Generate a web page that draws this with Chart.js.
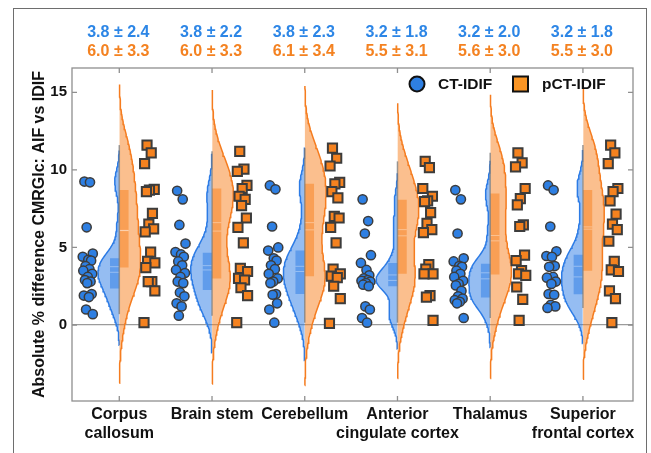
<!DOCTYPE html>
<html lang="en">
<head>
<meta charset="UTF-8">
<title>CMRGlc difference</title>
<script src="https://cdn.jsdelivr.net/npm/chart.js"></script>
<style>
  html, body { margin:0; padding:0; background:#fff; }
  #wrap { position:relative; width:651px; height:453px; overflow:hidden; }
  #frame { position:absolute; left:13px; top:8px; width:634px; height:470px; border:1.5px solid #6e6e6e; box-sizing:border-box; }
  canvas { position:absolute; left:0; top:0; }
</style>
</head>
<body>
<div id="wrap">
  <div id="frame"></div>
  <canvas id="myChart" width="651" height="453"></canvas>
</div>
<script>
// categories (x tick labels, multi line)
const regions = [['Corpus', 'callosum'], ['Brain stem'], ['Cerebellum'], ['Anterior', 'cingulate cortex'], ['Thalamus'], ['Superior', 'frontal cortex']];
const seriesNames = ['CT-IDIF', 'pCT-IDIF'];
// mean ± sd labels above the plot
const ctStats = ['3.8 ± 2.4', '3.8 ± 2.2', '3.8 ± 2.3', '3.2 ± 1.8', '3.2 ± 2.0', '3.2 ± 1.8'];
const pctStats = ['6.0 ± 3.3', '6.0 ± 3.3', '6.1 ± 3.4', '5.5 ± 3.1', '5.6 ± 3.0', '5.5 ± 3.0'];
// per subject values
const ctValues = [
  [9.25, 9.2, 6.3, 4.6, 4.4, 4.2, 4.15, 3.8, 3.6, 3.5, 3.3, 3.1, 2.9, 2.8, 2.7, 2.0, 1.9, 1.8, 1.0, 0.7],
  [8.65, 8.1, 6.45, 5.25, 4.7, 4.55, 4.4, 4.1, 3.85, 3.55, 3.35, 3.1, 2.8, 2.7, 2.1, 1.85, 1.4, 1.2, 0.6],
  [9.0, 8.75, 6.35, 5.0, 4.8, 4.3, 4.15, 3.85, 3.6, 3.3, 3.0, 2.8, 2.7, 2.0, 1.95, 1.4, 1.0, 0.15],
  [8.1, 6.7, 5.9, 4.5, 4.0, 3.55, 3.2, 3.0, 2.9, 2.85, 2.8, 2.7, 2.6, 2.5, 1.2, 1.0, 0.45, 0.15],
  [8.7, 8.1, 5.9, 4.3, 4.1, 3.8, 3.75, 3.5, 3.3, 3.1, 2.85, 2.65, 2.55, 2.2, 1.85, 1.7, 1.6, 1.5, 1.4, 0.45],
  [9.0, 8.7, 6.35, 4.75, 4.45, 4.4, 3.8, 3.75, 3.1, 3.05, 2.8, 2.65, 2.0, 1.95, 1.3, 1.2, 1.1]
];
const pctValues = [
  [11.6, 11.1, 10.4, 8.75, 8.7, 8.6, 7.2, 6.5, 6.2, 6.0, 4.7, 4.1, 4.0, 3.7, 2.8, 2.8, 2.2, 0.15],
  [11.2, 10.05, 9.9, 9.0, 8.8, 8.3, 8.1, 7.7, 6.9, 6.3, 5.3, 3.65, 3.45, 3.0, 2.9, 2.4, 1.9, 0.15],
  [11.4, 10.75, 10.25, 9.2, 9.1, 8.6, 8.2, 7.0, 6.9, 6.3, 5.3, 3.6, 3.3, 3.15, 3.05, 2.5, 1.7, 0.1],
  [10.55, 10.15, 8.8, 8.3, 8.0, 7.95, 7.25, 6.55, 6.15, 5.95, 3.9, 3.6, 3.3, 3.3, 1.9, 1.8, 0.3],
  [11.1, 10.45, 10.2, 8.8, 8.15, 7.75, 6.45, 6.35, 4.5, 4.15, 3.5, 3.3, 3.2, 2.45, 1.65, 0.3],
  [11.6, 11.1, 10.4, 8.8, 8.6, 8.0, 7.15, 6.5, 6.15, 5.4, 4.1, 3.55, 3.45, 2.2, 1.7, 0.15]
];
// kernel bandwidths of the violins
const ctBw = [0.77, 0.92, 0.94, 0.65, 0.73, 0.88];
const pctBw = [1.5, 1.52, 1.54, 1.44, 1.44, 1.4];
const yTicks = [0, 5, 10, 15];
// horizontal scatter of the dots
const jitter = [-0.6, 0.4, -0.2, 0.9, -0.9, 0.1, 0.6, -0.4, 0.3, -0.8, 0.8, 0, -0.5, 0.5, -0.1, 0.7, -0.7, 0.2, -0.3, 0.9];

const FONT = "'Liberation Sans', Arial, sans-serif";
const blue = '#2C7BE5', blueFill = 'rgba(44,123,229,0.5)', blueDot = '#2E7FE2';
const orange = '#F57C1F', orangeFill = 'rgba(247,128,30,0.5)', orangeDot = '#F5821F';
const VW = 0.23, BW = 0.1, CUT = 2.6;

function kde(vals, bw, steps) {
  const lo = Math.min(...vals) - CUT * bw, hi = Math.max(...vals) + CUT * bw;
  const pts = [];
  for (let i = 0; i <= steps; i++) {
    const y = lo + (hi - lo) * i / steps;
    let d = 0;
    vals.forEach(v => { const z = (y - v) / bw; d += Math.exp(-0.5 * z * z); });
    pts.push({ y, d });
  }
  const dmax = Math.max(...pts.map(p => p.d));
  return pts.map(p => ({ y: p.y, w: p.d / dmax }));
}

function quantile(vals, p) {
  const s = [...vals].sort((a, b) => a - b), n = s.length;
  const pos = p * n - 0.5;
  if (pos <= 0) return s[0];
  if (pos >= n - 1) return s[n - 1];
  const lo = Math.floor(pos);
  return s[lo] + (pos - lo) * (s[lo + 1] - s[lo]);
}

const lineBase = { type: 'line', pointRadius: 0, tension: 0, fill: false };
const datasets = [];

regions.forEach((r, i) => {
  const c = i + 1;
  [[ctValues[i], ctBw[i], -1, blue, blueFill], [pctValues[i], pctBw[i], 1, orange, orangeFill]].forEach(([vals, bw, dir, col, fillCol]) => {
    // half violin
    const curve = kde(vals, bw, 120);
    datasets.push({ ...lineBase, order: dir < 0 ? 5 : 4, data: curve.map(p => ({ x: c + dir * VW * p.w, y: p.y })),
      borderColor: col, borderWidth: 1.5, backgroundColor: fillCol, fill: 'shape' });
    // box (IQR)
    const q1 = quantile(vals, 0.25), q3 = quantile(vals, 0.75);
    datasets.push({ ...lineBase, order: 3, data: [{ x: c + dir * BW, y: q1 }, { x: c + dir * BW, y: q3 }, { x: c, y: q3 }, { x: c, y: q1 }],
      borderWidth: 0, borderColor: 'rgba(0,0,0,0)', backgroundColor: fillCol, fill: 'shape' });
    // median and mean
    const med = quantile(vals, 0.5), mean = vals.reduce((a, b) => a + b, 0) / vals.length;
    [med, mean].forEach(m => {
      datasets.push({ ...lineBase, order: 2, data: [{ x: c + dir * BW, y: m }, { x: c, y: m }],
        borderColor: 'rgba(255,255,255,0.35)', borderWidth: 1 });
    });
  });
  // whisker
  datasets.push({ ...lineBase, order: 1, data: [{ x: c, y: Math.min(...ctValues[i]) }, { x: c, y: Math.max(...pctValues[i]) }],
    borderColor: 'rgba(120,120,120,0.75)', borderWidth: 1.5 });
});

// dots
const ctDots = [], pctDots = [];
ctValues.forEach((vals, i) => vals.forEach((v, j) => ctDots.push({ x: i + 1 - 0.34 + 0.06 * jitter[j % jitter.length], y: v })));
pctValues.forEach((vals, i) => vals.forEach((v, j) => pctDots.push({ x: i + 1 + 0.325 + 0.065 * jitter[(j + 7) % jitter.length], y: v })));
datasets.push({ type: 'scatter', label: seriesNames[0], order: 0, data: ctDots, pointStyle: 'circle', pointRadius: 4.6,
  pointBorderWidth: 1.5, pointBorderColor: '#3c3c3c', pointBackgroundColor: blueDot });
datasets.push({ type: 'scatter', label: seriesNames[1], order: 0, data: pctDots, pointStyle: 'rect', pointRadius: 6.5,
  pointBorderWidth: 2, pointBorderColor: '#3c3c3c', pointBackgroundColor: orangeDot });

// plot box with inward ticks
const boxPlugin = {
  id: 'plotBox',
  afterDatasetsDraw(chart) {
    const { ctx, chartArea: a, scales } = chart;
    ctx.save();
    ctx.strokeStyle = '#8f8f8f';
    ctx.lineWidth = 1.3;
    ctx.strokeRect(a.left, a.top, a.right - a.left, a.bottom - a.top);
    ctx.beginPath();
    regions.forEach((r, i) => {
      const px = scales.x.getPixelForValue(i + 1);
      ctx.moveTo(px, a.top); ctx.lineTo(px, a.top + 5);
      ctx.moveTo(px, a.bottom); ctx.lineTo(px, a.bottom - 5);
    });
    yTicks.forEach(v => {
      const py = scales.y.getPixelForValue(v);
      ctx.moveTo(a.left, py); ctx.lineTo(a.left + 5, py);
      ctx.moveTo(a.right, py); ctx.lineTo(a.right - 5, py);
    });
    ctx.stroke();
    ctx.restore();
  }
};

// mean ± sd text and legend
const textPlugin = {
  id: 'statsText',
  afterDraw(chart) {
    const { ctx, chartArea: a, scales } = chart;
    ctx.save();
    ctx.font = 'bold 16px ' + FONT;
    ctx.textAlign = 'center';
    ctx.textBaseline = 'middle';
    regions.forEach((r, i) => {
      const px = scales.x.getPixelForValue(i + 1) - 1;
      ctx.fillStyle = '#2D86E6';
      ctx.fillText(ctStats[i], px, 33);
      ctx.fillStyle = '#F48221';
      ctx.fillText(pctStats[i], px, 52);
    });
    // legend
    const y = a.top + 16;
    ctx.lineWidth = 2;
    ctx.strokeStyle = '#111';
    ctx.fillStyle = blueDot;
    ctx.beginPath();
    ctx.arc(a.right - 216, y, 7.5, 0, 2 * Math.PI);
    ctx.fill(); ctx.stroke();
    ctx.fillStyle = '#FA9524';
    ctx.fillRect(a.right - 120, y - 7.5, 15, 15);
    ctx.strokeRect(a.right - 120, y - 7.5, 15, 15);
    ctx.font = 'bold 15.5px ' + FONT;
    ctx.textAlign = 'left';
    ctx.fillStyle = '#111';
    ctx.fillText(seriesNames[0], a.right - 195, y + 1);
    ctx.fillText(seriesNames[1], a.right - 91, y + 1);
    ctx.restore();
  }
};

const tickFont = { family: FONT, size: 15, weight: 'bold' };

new Chart(document.getElementById('myChart'), {
  type: 'scatter',
  data: { datasets },
  options: {
    responsive: false,
    animation: false,
    events: [],
    layout: { padding: { left: 30, top: 68, right: 18, bottom: 0 } },
    plugins: { legend: { display: false }, tooltip: { enabled: false } },
    scales: {
      x: {
        type: 'linear', min: 0.49, max: 6.54,
        afterBuildTicks: s => { s.ticks = regions.map((r, i) => ({ value: i + 1 })); },
        afterFit: s => { s.height = 52; },
        ticks: { autoSkip: false, maxRotation: 0, minRotation: 0, padding: 4, color: '#111',
          font: { family: FONT, size: 16, weight: 'bold' }, callback: (v, idx) => regions[idx] },
        grid: { display: false, drawTicks: false },
        border: { display: false }
      },
      y: {
        type: 'linear', min: -4.9, max: 16.57,
        afterBuildTicks: s => { s.ticks = yTicks.map(v => ({ value: v })); },
        afterFit: s => { s.width = 42; },
        ticks: { padding: 5, color: '#111', font: tickFont },
        grid: { drawTicks: false, lineWidth: 1.2, color: c => (c.tick && c.tick.value === 0) ? '#9b9b9b' : 'rgba(0,0,0,0)' },
        border: { display: false },
        title: { display: true, text: 'Absolute % difference CMRGlc: AIF vs IDIF', color: '#111',
          font: { family: FONT, size: 16, weight: 'bold' }, padding: { top: 0, bottom: 0 } }
      }
    }
  },
  plugins: [boxPlugin, textPlugin]
});
</script>
</body>
</html>
